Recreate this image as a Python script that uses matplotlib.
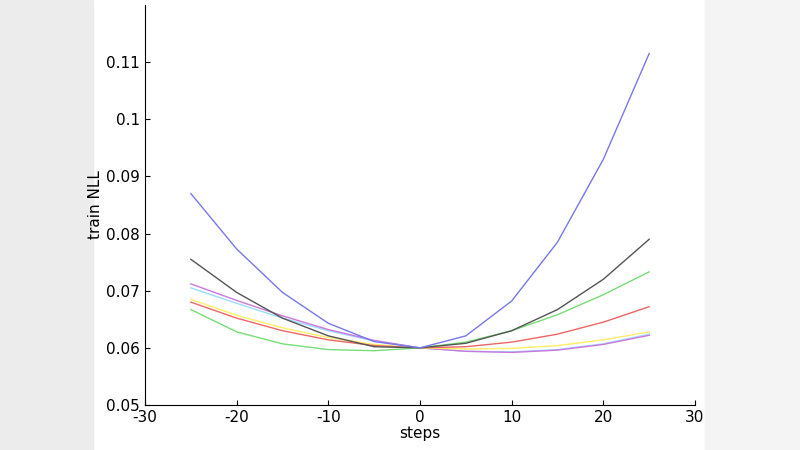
import matplotlib
matplotlib.use("Agg")
import matplotlib.pyplot as plt
from matplotlib.patches import Rectangle

plt.rcParams["axes.unicode_minus"] = False

steps = [-25, -20, -15, -10, -5, 0, 5, 10, 15, 20, 25]
blue_big = [0.0870, 0.0773, 0.0697, 0.0643, 0.0611, 0.0600, 0.0621, 0.0682, 0.0785, 0.0930, 0.1115]
black = [0.0755, 0.0697, 0.0652, 0.0621, 0.0602, 0.0600, 0.0608, 0.0630, 0.0667, 0.0720, 0.0790]
green = [0.0667, 0.0628, 0.0607, 0.0597, 0.0595, 0.0600, 0.0610, 0.0630, 0.0658, 0.0693, 0.0733]
red = [0.0680, 0.0652, 0.0630, 0.0614, 0.0604, 0.0600, 0.0602, 0.0610, 0.0624, 0.0645, 0.0672]
yellow = [0.0685, 0.0657, 0.0635, 0.0618, 0.0606, 0.0600, 0.0598, 0.0599, 0.0604, 0.0614, 0.0628]
magenta = [0.0712, 0.0683, 0.0656, 0.0632, 0.0613, 0.0600, 0.0594, 0.0592, 0.0596, 0.0606, 0.0622]
cyan = [0.0705, 0.0678, 0.0652, 0.0630, 0.0612, 0.0600, 0.0594, 0.0593, 0.0597, 0.0607, 0.0624]

series = [
    (cyan, "#99ddff"), (magenta, "#cc77dd"), (yellow, "#ffee66"), (red, "#ee6666"),
    (green, "#77dd77"), (black, "#555555"), (blue_big, "#7777ee"),
]

fig = plt.figure(figsize=(8, 4.5), dpi=100)
fig.patches.append(Rectangle((0, 0), 93/800, 1, transform=fig.transFigure, color="#ececec", zorder=-1))
fig.patches.append(Rectangle((705/800, 0), 95/800, 1, transform=fig.transFigure, color="#f4f4f4", zorder=-1))
ax = fig.add_axes([145/800, 45/450, 550/800, 400/450])
for vals, c in series:
    ax.plot(steps, vals, color=c, lw=1)
ax.set_xlim(-30, 30)
ax.set_ylim(0.05, 0.12)
ax.set_xticks(range(-30, 31, 10))
ax.set_yticks([0.05, 0.06, 0.07, 0.08, 0.09, 0.1, 0.11])
ax.set_yticklabels(["0.05", "0.06", "0.07", "0.08", "0.09", "0.1", "0.11"])
ax.spines["top"].set_visible(False)
ax.spines["right"].set_visible(False)
ax.tick_params(direction="in", labelsize=11)
ax.set_xlabel("steps", fontsize=11, labelpad=1)
ax.set_ylabel("train NLL", fontsize=11, labelpad=2)
fig.savefig("out.png", dpi=100)
